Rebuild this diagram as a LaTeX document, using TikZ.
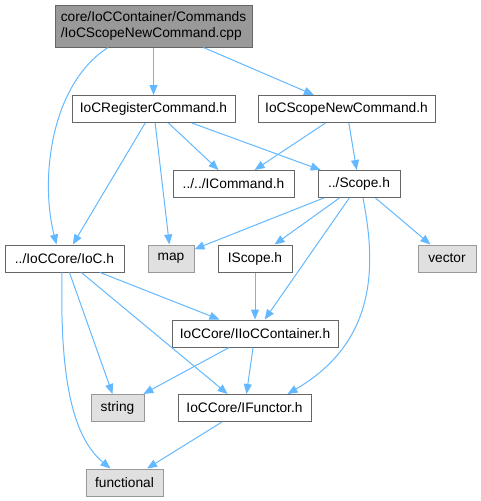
\documentclass[tikz,border=0pt]{standalone}
\usepackage{fontspec}
\setmainfont{Liberation Sans}
\usetikzlibrary{arrows.meta}
\definecolor{edgec}{HTML}{63B8FF}
\definecolor{bordc}{HTML}{666666}
\definecolor{extb}{HTML}{999999}
\definecolor{extf}{HTML}{E0E0E0}
\tikzset{
  base/.style={draw, line width=0.75pt, inner sep=0pt, minimum height=20.25pt, font=\fontsize{10.3}{12.4}\selectfont, text=black},
  filebox/.style={base, draw=bordc, fill=white},
  extbox/.style={base, draw=extb, fill=extf},
  topbox/.style={base, draw=bordc, fill=extb, minimum height=31.5pt, align=left},
  dep/.style={draw=edgec, line width=0.75pt, -{Triangle[length=7.5pt,width=6pt]}}
}
\begin{document}
\begin{tikzpicture}[x=0.75pt,y=-0.75pt]
\useasboundingbox (0,0) rectangle (481,501);
\node[topbox, minimum width=147.75pt] (top) at (153.5,26) {core/IoCContainer/Commands\\/IoCScopeNewCommand.cpp};
\node[filebox, minimum width=122.25pt] (reg) at (153.5,109) {IoCRegisterCommand.h};
\node[filebox, minimum width=132.75pt] (snh) at (346.5,109) {IoCScopeNewCommand.h};
\node[filebox, minimum width=90.75pt] (icmd) at (233.5,184) {../../ICommand.h};
\node[filebox, minimum width=61.5pt] (scope) at (359,184) {../Scope.h};
\node[filebox, minimum width=89.25pt] (ioc) at (64.5,258.5) {../IoCCore/IoC.h};
\node[extbox, minimum width=34.5pt] (map) at (171,258.5) {map};
\node[filebox, minimum width=55.5pt] (iscope) at (255,258.5) {IScope.h};
\node[extbox, minimum width=43.5pt] (vector) at (447,258.5) {vector};
\node[filebox, minimum width=124.5pt] (iioc) at (255,333.5) {IoCCore/IIoCContainer.h};
\node[extbox, minimum width=39.75pt] (string) at (117.5,408) {string};
\node[filebox, minimum width=99.75pt] (ifun) at (244.5,408) {IoCCore/IFunctor.h};
\node[extbox, minimum width=57.75pt] (functional) at (124.5,482.5) {functional};

\draw[dep] ([xshift=-34.125pt]top.south) .. controls (50,85) and (40,180) .. ([xshift=-6pt]ioc.north);
\draw[dep] (top) -- (reg);
\draw[dep] (top) -- (snh);
\draw[dep] (reg) -- (ioc);
\draw[dep] (reg) -- (map);
\draw[dep] (reg) -- (icmd);
\draw[dep] (reg) -- (scope);
\draw[dep] (snh) -- (icmd);
\draw[dep] (snh) -- (scope);
\draw[dep] (scope) -- (map);
\draw[dep] (scope) -- (iscope);
\draw[dep] (scope) -- (vector);
\draw[dep] (scope) -- (iioc);
\draw[dep] ([xshift=3pt]scope.south) .. controls (375,260) and (380,340) .. ([xshift=32.25pt]ifun.north);
\draw[dep] (ioc) -- (iioc);
\draw[dep] (ioc) -- (string);
\draw[dep] (ioc) -- (ifun);
\draw[dep] ([xshift=-1.875pt]ioc.south) .. controls (60,370) and (70,435) .. ([xshift=-10.5pt]functional.north);
\draw[dep] (iscope) -- (iioc);
\draw[dep] (iioc) -- (string);
\draw[dep] (iioc) -- (ifun);
\draw[dep] (ifun) -- (functional);
\end{tikzpicture}
\end{document}
